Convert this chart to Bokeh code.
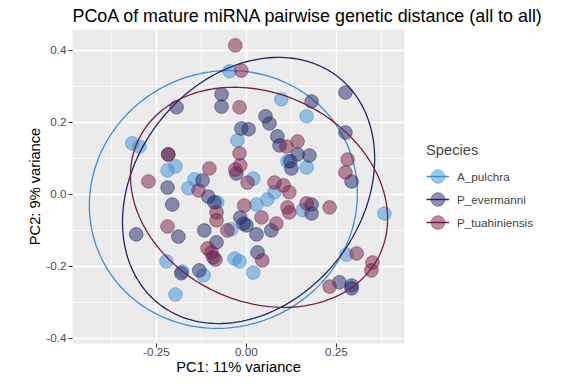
import numpy as np
from bokeh.plotting import figure
from bokeh.models import Legend, LegendItem, FixedTicker, NumeralTickFormatter
from bokeh.embed import file_html
from bokeh.resources import INLINE

# ---- data (PC1, PC2 coordinates per species) ----
species = ["A_pulchra", "P_evermanni", "P_tuahiniensis"]

a_pulchra_x = [-0.047, 0.097, 0.167, -0.025, 0.114, 0.167, 0.019, -0.317, -0.297, -0.219,
               -0.197, -0.144, -0.161, -0.081, 0.028, 0.058, 0.078, -0.042, -0.033, -0.019,
               0.019, -0.119, -0.178, -0.222, -0.197, 0.156, 0.383, 0.278]
a_pulchra_y = [0.342, 0.264, 0.217, 0.150, 0.092, 0.075, 0.044, 0.142, 0.133, 0.067,
               0.078, 0.042, 0.017, -0.022, -0.028, -0.014, 0.006, -0.097, -0.178, -0.186,
               -0.217, -0.225, -0.214, -0.186, -0.278, -0.044, -0.053, -0.167]

p_evermanni_x = [-0.194, -0.217, -0.219, -0.122, -0.069, -0.069, 0.181, 0.053, 0.064, -0.014,
                 0.006, 0.086, 0.092, -0.028, 0.142, 0.175, 0.122, 0.125, 0.275, 0.275,
                 0.292, -0.106, -0.089, -0.206, -0.017, -0.008, 0.000, -0.117, -0.306, -0.189,
                 -0.083, -0.092, 0.028, 0.069, 0.031, -0.181, -0.131, 0.181, 0.181, 0.258,
                 0.292, 0.292]
p_evermanni_y = [0.242, 0.111, 0.019, 0.039, 0.278, 0.244, 0.258, 0.217, 0.197, 0.183,
                 0.181, 0.161, 0.136, 0.058, 0.111, 0.108, 0.092, 0.072, 0.283, 0.172,
                 0.036, -0.006, -0.022, -0.028, -0.064, -0.081, -0.086, -0.100, -0.111, -0.117,
                 -0.133, -0.175, -0.111, -0.100, -0.161, -0.219, -0.211, -0.028, -0.053, -0.244,
                 -0.253, -0.261]

p_tuahiniensis_x = [-0.031, -0.014, -0.019, -0.217, -0.272, -0.103, -0.133, 0.111, 0.142, -0.019,
                    -0.031, -0.017, 0.003, 0.078, 0.103, 0.119, 0.281, 0.275, -0.006, -0.083,
                    -0.083, 0.042, 0.114, 0.119, 0.167, -0.053, 0.083, -0.108, -0.097, -0.086,
                    0.044, -0.219, 0.231, 0.306, 0.350, 0.347, 0.231]
p_tuahiniensis_y = [0.414, 0.344, 0.242, 0.111, 0.036, 0.072, 0.011, 0.133, 0.147, 0.114,
                    0.069, 0.081, 0.033, 0.033, 0.025, 0.006, 0.097, 0.061, -0.031, -0.050,
                    -0.072, -0.064, -0.036, -0.050, -0.025, -0.100, -0.081, -0.150, -0.161, -0.181,
                    -0.183, -0.089, -0.036, -0.164, -0.189, -0.211, -0.256]

# 95% ellipse parameters per species: centre, full axes, rotation (degrees)
ell_cx = [-0.064, 0.006, 0.035]
ell_cy = [-0.014, 0.011, -0.008]
ell_w = [0.752, 0.803, 0.742]
ell_h = [0.708, 0.626, 0.577]
ell_angle = [25.0, 51.4, -25.6]

colors = ["#3A8FD4", "#1D2768", "#7A1C45"]

x_ticks = [-0.25, 0.0, 0.25]
x_minor = [-0.375, -0.125, 0.125, 0.375]
y_ticks = [-0.4, -0.2, 0.0, 0.2, 0.4]
y_minor = [-0.3, -0.1, 0.1, 0.3]

FONT = "Liberation Sans"
PT_DIAM = 0.038

p = figure(frame_width=332, frame_height=314,
           x_range=(-0.483, 0.439), y_range=(-0.414, 0.458),
           output_backend="svg", toolbar_location=None,
           min_border_left=72, min_border_right=5, min_border_top=0, min_border_bottom=0,
           title="PCoA of mature miRNA pairwise genetic distance (all to all)",
           x_axis_label="PC1: 11% variance", y_axis_label="PC2: 9% variance")

p.background_fill_color = "#EBEBEB"
p.border_fill_color = "white"
p.outline_line_color = None

p.title.align = "left"
p.title.text_font = FONT
p.title.text_font_size = "17.9px"
p.title.text_font_style = "normal"
p.title.text_color = "black"
p.title.standoff = 7

p.xaxis.ticker = FixedTicker(ticks=x_ticks, minor_ticks=x_minor)
p.yaxis.ticker = FixedTicker(ticks=y_ticks, minor_ticks=y_minor)
p.xaxis.formatter = NumeralTickFormatter(format="0.00")
p.yaxis.formatter = NumeralTickFormatter(format="0.0")

for ax in (p.xaxis, p.yaxis):
    ax.axis_line_color = None
    ax.major_tick_line_color = "#333333"
    ax.major_tick_line_width = 1
    ax.major_tick_in = 0
    ax.major_tick_out = 4
    ax.minor_tick_line_color = None
    ax.major_label_text_font = FONT
    ax.major_label_text_font_size = "11.7px"
    ax.major_label_text_color = "#4D4D4D"
    ax.axis_label_text_font = FONT
    ax.axis_label_text_font_size = "14.7px"
    ax.axis_label_text_font_style = "normal"
    ax.axis_label_text_color = "black"
p.xaxis.major_label_standoff = 0
p.xaxis.axis_label_standoff = 0
p.yaxis.major_label_standoff = 2
p.yaxis.axis_label_standoff = 0

for g in (p.xgrid, p.ygrid):
    g.grid_line_color = "white"
    g.grid_line_width = 1.4
    g.minor_grid_line_color = "white"
    g.minor_grid_line_width = 0.7

xs_all = [a_pulchra_x, p_evermanni_x, p_tuahiniensis_x]
ys_all = [a_pulchra_y, p_evermanni_y, p_tuahiniensis_y]

items = []
t = np.linspace(0, 2 * np.pi, 200)
for i, sp in enumerate(species):
    a = ell_w[i] / 2
    b = ell_h[i] / 2
    phi = np.deg2rad(ell_angle[i])
    ex = ell_cx[i] + a * np.cos(t) * np.cos(phi) - b * np.sin(t) * np.sin(phi)
    ey = ell_cy[i] + a * np.cos(t) * np.sin(phi) + b * np.sin(t) * np.cos(phi)
    pts = p.ellipse(x=xs_all[i], y=ys_all[i], width=PT_DIAM, height=PT_DIAM,
                    fill_color=colors[i], fill_alpha=0.5,
                    line_color=colors[i], line_alpha=0.5, line_width=1)
    ln = p.line(ex, ey, line_color=colors[i], line_width=1.3)
    items.append(LegendItem(label=sp, renderers=[ln, pts]))

legend = Legend(items=items, title="Species", location="center_left",
                title_text_font=FONT, title_text_font_size="14.7px",
                title_text_font_style="normal", title_standoff=10,
                label_text_font=FONT, label_text_font_size="11.7px",
                glyph_width=23, glyph_height=17, label_height=17,
                spacing=6, label_standoff=8,
                border_line_color=None, background_fill_alpha=0,
                padding=0, margin=22)
p.add_layout(legend, "right")

open("out.html", "w").write(file_html(p, INLINE))
